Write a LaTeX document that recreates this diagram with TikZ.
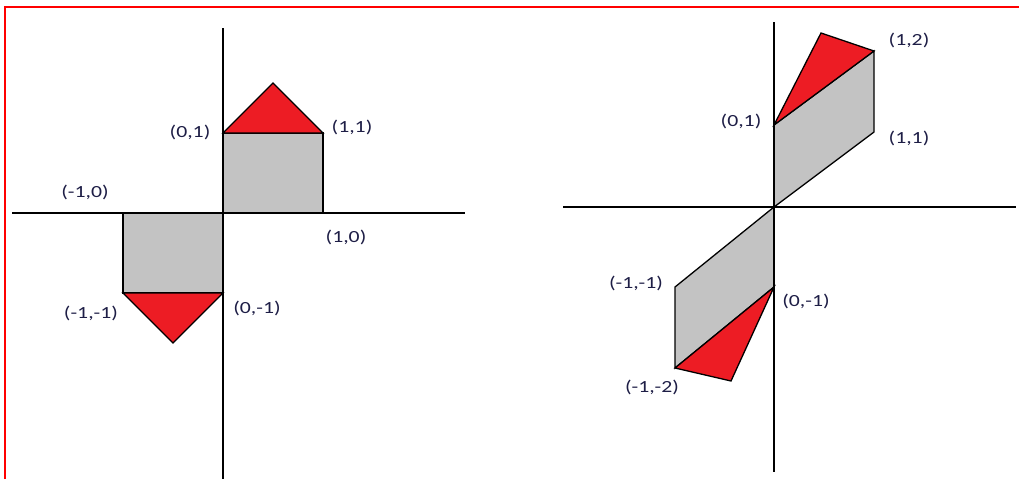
\documentclass[tikz,border=0pt]{standalone}
\usepackage{fontspec}
\newfontfamily\lblfont{Carlito}
\definecolor{paintred}{RGB}{237,28,36}
\definecolor{paintgray}{RGB}{195,195,195}
\definecolor{lbltext}{RGB}{30,30,70}
\tikzset{
  axis/.style={black, line width=1.4pt},
  grayshape/.style={fill=paintgray, draw=black, line width=1.3pt, line join=miter},
  redshape/.style={fill=paintred, draw=black, line width=1.3pt, line join=miter},
  lbl/.style={font=\lblfont\fontsize{17}{19}\selectfont, text=lbltext, inner sep=0pt, anchor=center, xscale=1.28},
  frameline/.style={red, line width=2pt}
}
\begin{document}
\begin{tikzpicture}[x=1pt, y=-1pt]
\useasboundingbox (0,0) rectangle (1019,479);
% frame
\coordinate (fr1) at (5,479);
\coordinate (fr2) at (5,7);
\coordinate (fr3) at (1019,7);
\draw[frameline] (fr1) -- (fr2) -- (fr3);

% ---------- left figure ----------
\coordinate (O1) at (223,213);
\coordinate (A1) at (323,213);
\coordinate (B1) at (323,133);
\coordinate (C1) at (223,133);
\coordinate (T1) at (273,83);
\coordinate (D1) at (123,213);
\coordinate (E1) at (123,293);
\coordinate (F1) at (223,293);
\coordinate (T2) at (173,343);
\coordinate (LYa) at (223,28);
\coordinate (LYb) at (223,479);
\coordinate (LXa) at (12,213);
\coordinate (LXb) at (465,213);

\draw[grayshape] (O1) -- (A1) -- (B1) -- (C1) -- cycle;
\draw[grayshape] (D1) -- (O1) -- (F1) -- (E1) -- cycle;
\draw[redshape] (C1) -- (B1) -- (T1) -- cycle;
\draw[redshape] (E1) -- (F1) -- (T2) -- cycle;
\draw[axis] (LYa) -- (LYb);
\draw[axis] (LXa) -- (LXb);

\node[lbl] (l01) at (190,132) {(0,1)};
\node[lbl] (l11) at (352,127) {(1,1)};
\node[lbl] (lm10) at (85,192) {(-1,0)};
\node[lbl] (l10) at (346,237) {(1,0)};
\node[lbl] (lm1m1) at (91,313) {(-1,-1)};
\node[lbl] (l0m1) at (257,308) {(0,-1)};

% ---------- right figure ----------
\coordinate (O2) at (774,207);
\coordinate (P2) at (774,125);
\coordinate (Q2) at (874,51);
\coordinate (R2) at (874,132);
\coordinate (T3) at (821,33);
\coordinate (S2) at (774,287);
\coordinate (U2) at (675,368);
\coordinate (V2) at (675,287);
\coordinate (T4) at (731,381);
\coordinate (RYa) at (774,22);
\coordinate (RYb) at (774,472);
\coordinate (RXa) at (563,207);
\coordinate (RXb) at (1016,207);

\draw[grayshape] (O2) -- (P2) -- (Q2) -- (R2) -- cycle;
\draw[grayshape] (O2) -- (S2) -- (U2) -- (V2) -- cycle;
\draw[redshape] (P2) -- (T3) -- (Q2) -- cycle;
\draw[redshape] (S2) -- (U2) -- (T4) -- cycle;
\draw[axis] (RYa) -- (RYb);
\draw[axis] (RXa) -- (RXb);

\node[lbl] (r12) at (909,40) {(1,2)};
\node[lbl] (r01) at (741,121) {(0,1)};
\node[lbl] (r11) at (909,138) {(1,1)};
\node[lbl] (rm1m1) at (636,283) {(-1,-1)};
\node[lbl] (r0m1) at (806,301) {(0,-1)};
\node[lbl] (rm1m2) at (652,387) {(-1,-2)};
\end{tikzpicture}
\end{document}
